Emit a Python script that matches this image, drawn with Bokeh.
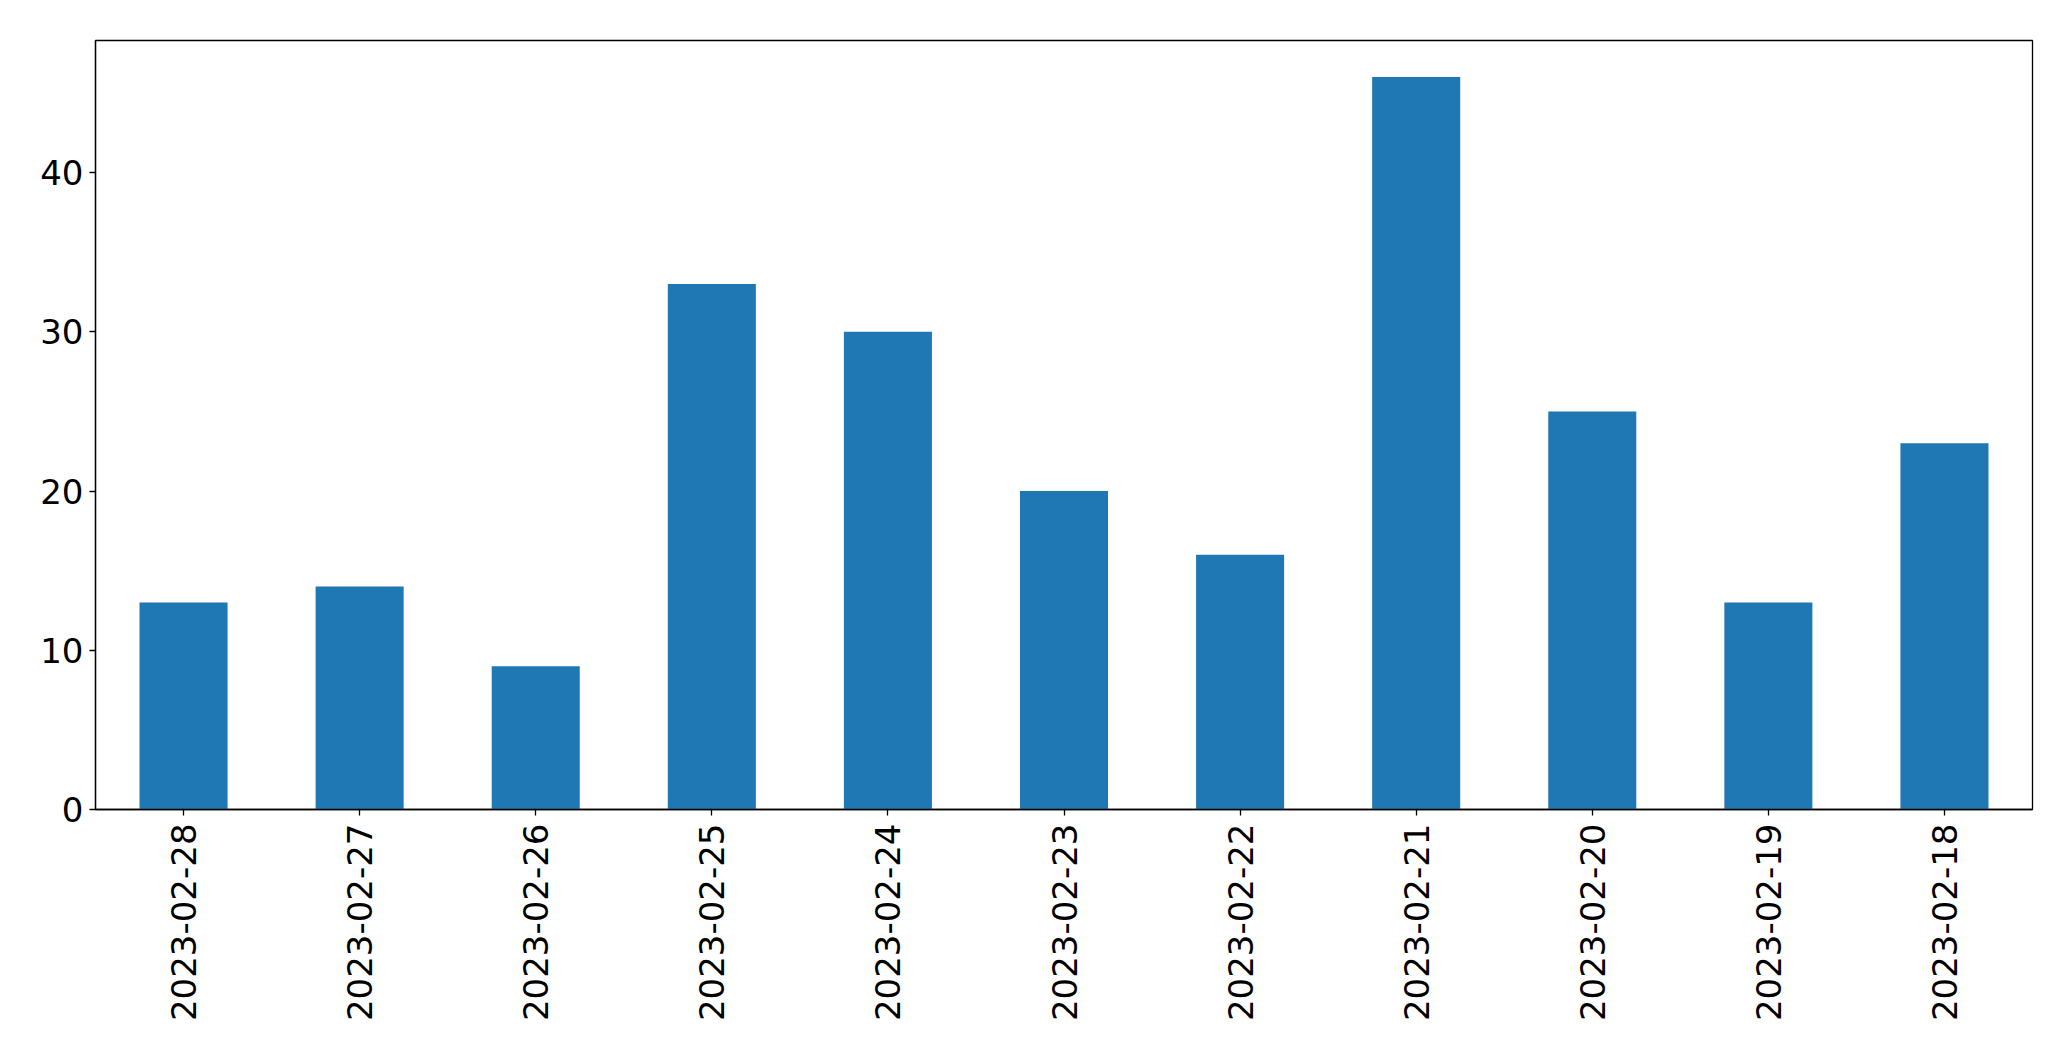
import math
from bokeh.plotting import figure
from bokeh.models import FactorRange, Range1d, FixedTicker
from bokeh.embed import file_html
from bokeh.resources import INLINE

dates = ["2023-02-28", "2023-02-27", "2023-02-26", "2023-02-25", "2023-02-24",
         "2023-02-23", "2023-02-22", "2023-02-21", "2023-02-20", "2023-02-19",
         "2023-02-18"]
counts = [13, 14, 9, 33, 30, 20, 16, 46, 25, 13, 23]
y_ticks = [0, 10, 20, 30, 40]

p = figure(width=2055, height=1045, output_backend="svg", toolbar_location=None,
           x_range=FactorRange(factors=dates, range_padding=0),
           y_range=Range1d(0, max(counts) * 1.05))
p.min_border_left = 95
p.min_border_top = 40
p.min_border_right = 23
p.min_border_bottom = 236

p.vbar(x=dates, top=counts, width=0.5, color="#1f77b4", line_color=None)

p.xgrid.visible = False
p.ygrid.visible = False
p.outline_line_color = "black"
p.outline_line_width = 1.3
p.outline_line_alpha = 1

for ax in (p.xaxis[0], p.yaxis[0]):
    ax.major_label_text_font = "DejaVu Sans"
    ax.major_label_text_font_size = "34px"
    ax.major_label_text_color = "black"
    ax.axis_line_color = "black"
    ax.axis_line_width = 1.3
    ax.major_tick_line_color = "black"
    ax.major_tick_line_width = 1.3
    ax.major_tick_out = 6
    ax.major_tick_in = 0
    ax.minor_tick_line_color = None

p.yaxis[0].ticker = FixedTicker(ticks=y_ticks)
p.yaxis[0].major_label_standoff = 6
p.xaxis[0].major_label_orientation = math.pi / 2
p.xaxis[0].major_label_standoff = 8

open("out.html", "w").write(file_html(p, INLINE))
